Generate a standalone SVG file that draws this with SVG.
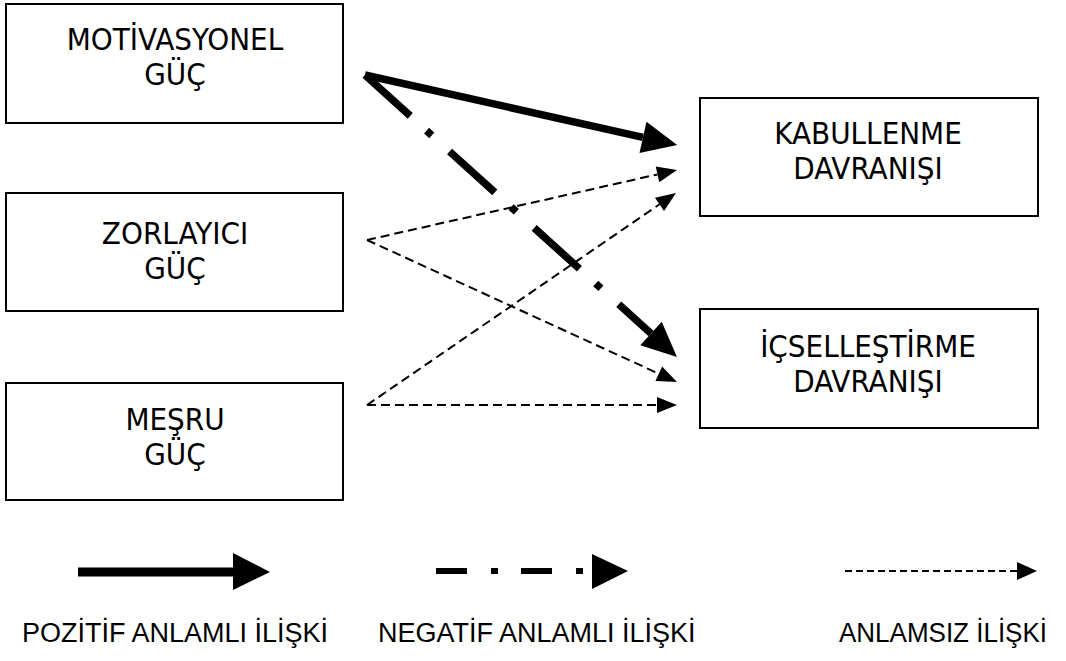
<svg xmlns="http://www.w3.org/2000/svg" width="1066" height="661" viewBox="0 0 1066 661">
<style>
.box{fill:#fff;stroke:#000;stroke-width:2}
.lbl{font-family:"DejaVu Sans Condensed","DejaVu Sans",sans-serif;font-size:31px;fill:#000;text-anchor:middle}
.leg{font-family:"Liberation Sans",Arial,sans-serif;font-size:27px;fill:#000}
.thick{stroke:#000;stroke-width:7.5;fill:none;stroke-linecap:butt}
.dd{stroke:#000;stroke-width:7.5;fill:none;stroke-dasharray:61 22 7 24}
.dash{stroke:#000;stroke-width:2;fill:none;stroke-dasharray:9 5}
</style>
<defs>
<marker id="big" markerUnits="userSpaceOnUse" markerWidth="36" markerHeight="34" refX="0" refY="16" orient="auto" overflow="visible">
<path d="M0,0 L35,16 L0,32 Z" fill="#000"/>
</marker>
<marker id="small" markerUnits="userSpaceOnUse" markerWidth="21" markerHeight="18" refX="0" refY="8" orient="auto" overflow="visible">
<path d="M0,0 L20,8 L0,16 Z" fill="#000"/>
</marker>
</defs>
<g id="motivasyonel">
<rect class="box" x="6" y="4" width="337" height="119"/>
<text class="lbl" x="175" y="50"><tspan x="175">MOTİVASYONEL</tspan><tspan x="175" dy="35">GÜÇ</tspan></text>
</g>
<g id="zorlayici">
<rect class="box" x="6" y="193" width="337" height="118"/>
<text class="lbl" x="175" y="244"><tspan x="175">ZORLAYICI</tspan><tspan x="175" dy="35">GÜÇ</tspan></text>
</g>
<g id="mesru">
<rect class="box" x="6" y="383" width="337" height="117"/>
<text class="lbl" x="175" y="430"><tspan x="175">MEŞRU</tspan><tspan x="175" dy="35">GÜÇ</tspan></text>
</g>
<g id="kabullenme">
<rect class="box" x="700" y="98" width="338" height="118"/>
<text class="lbl" x="868" y="144"><tspan x="868">KABULLENME</tspan><tspan x="868" dy="35">DAVRANIŞI</tspan></text>
</g>
<g id="icsellestirme">
<rect class="box" x="700" y="309" width="338" height="119"/>
<text class="lbl" x="868" y="357"><tspan x="868">İÇSELLEŞTİRME</tspan><tspan x="868" dy="35">DAVRANIŞI</tspan></text>
</g>
<g id="connectors">
<line class="thick" x1="365" y1="75" x2="643" y2="137.3" marker-end="url(#big)"/>
<line class="dd" x1="365" y1="75" x2="651" y2="333.5" marker-end="url(#big)"/>
<line class="dash" x1="367" y1="240" x2="657.5" y2="174.4" marker-end="url(#small)"/>
<line class="dash" x1="367" y1="240" x2="658.8" y2="373.7" marker-end="url(#small)"/>
<line class="dash" x1="367" y1="405" x2="659.5" y2="204.3" marker-end="url(#small)"/>
<line class="dash" x1="367" y1="405" x2="657" y2="405" marker-end="url(#small)"/>
</g>
<g id="legend">
<line x1="78" y1="572" x2="234" y2="572" stroke="#000" stroke-width="9"/>
<path d="M233,553 L270,572 L233,590 Z" fill="#000"/>
<line x1="436" y1="571" x2="593" y2="571" stroke="#000" stroke-width="6" stroke-dasharray="31 24 7 23"/>
<path d="M592,554 L628,571 L592,589 Z" fill="#000"/>
<line x1="845" y1="571" x2="1018" y2="571" stroke="#000" stroke-width="2" stroke-dasharray="7 4"/>
<path d="M1017,562 L1037,571 L1017,580 Z" fill="#000"/>
<text class="leg" x="22" y="642">POZİTİF ANLAMLI İLİŞKİ</text>
<text class="leg" x="378" y="642">NEGATİF ANLAMLI İLİŞKİ</text>
<text class="leg" x="839" y="642" textLength="208" lengthAdjust="spacingAndGlyphs">ANLAMSIZ İLİŞKİ</text>
</g>
</svg>
